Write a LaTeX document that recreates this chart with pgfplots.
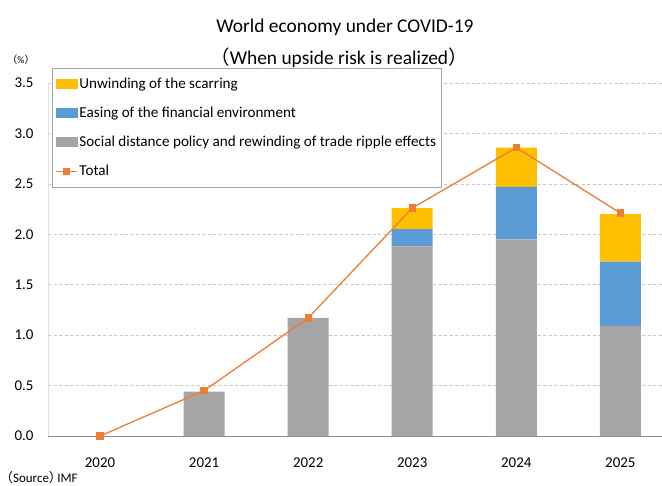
\documentclass[border=0pt]{standalone}
\usepackage{pgfplots}
\pgfplotsset{compat=1.18}
\usepackage{fontspec}
\setmainfont{Carlito}
\newfontfamily\cjk{Noto Sans CJK JP}
\definecolor{cyellow}{HTML}{FFC000}
\definecolor{cblue}{HTML}{5B9BD5}
\definecolor{cgray}{HTML}{A5A5A5}
\definecolor{corange}{HTML}{ED7D31}
\begin{document}
\begin{tikzpicture}
\pgfplotsset{common/.style={width=614bp, height=353bp, scale only axis,
  xmin=-0.5, xmax=5.4, ymin=0, ymax=3.5, at={(0,0)}, anchor=south west}}
\begin{axis}[common, ybar stacked, bar width=41bp,
  axis x line*=bottom, axis y line*=left,
  x axis line style={draw=black!45, line width=0.9pt, -},
  y axis line style={draw=black!12, -},
  ytick={0,0.5,...,3.5}, ymajorgrids,
  grid style={draw=black!22, dash pattern=on 3bp off 2.5bp, line width=0.6pt},
  major tick length=0,
  xtick={0,...,5}, xticklabels={2020,2021,2022,2023,2024,2025},
  /pgf/number format/assume math mode=true,
  yticklabel style={/pgf/number format/fixed, /pgf/number format/fixed zerofill, /pgf/number format/precision=1, xshift=-11bp},
  xticklabel style={yshift=-18bp},
  tick label style={font=\fontsize{15}{17}\selectfont},
  legend cell align=left,
  legend style={at={(axis description cs:0.0065,1.0425)}, anchor=north west,
    draw=black!35, fill=white, font=\fontsize{15.2}{17}\selectfont,
    row sep=13bp, inner xsep=3bp, inner ysep=8bp,
    /tikz/every even column/.append style={column sep=1bp}},
]
\addplot[fill=cgray, draw=none, forget plot] coordinates {(0,0) (1,0.44) (2,1.17) (3,1.88) (4,1.95) (5,1.09)};
\addplot[fill=cblue, draw=none, forget plot] coordinates {(0,0) (1,0) (2,0) (3,0.17) (4,0.52) (5,0.64)};
\addplot[fill=cyellow, draw=none, forget plot] coordinates {(0,0) (1,0) (2,0) (3,0.21) (4,0.39) (5,0.47)};
\addlegendimage{legend image code/.code={\fill[cyellow] (0bp,-4bp) rectangle (21bp,4.5bp);}}
\addlegendentry{Unwinding of the scarring}
\addlegendimage{legend image code/.code={\fill[cblue] (0bp,-4bp) rectangle (21bp,4.5bp);}}
\addlegendentry{Easing of the financial environment}
\addlegendimage{legend image code/.code={\fill[cgray] (0bp,-4bp) rectangle (21bp,4.5bp);}}
\addlegendentry{Social distance policy and rewinding of trade ripple effects}
\addlegendimage{legend image code/.code={\draw[corange, line width=1.3bp] (0bp,0bp) -- (21bp,0bp); \fill[corange] (7.5bp,-3bp) rectangle (13.5bp,3bp);}}
\addlegendentry{Total}
\end{axis}
\begin{axis}[common, hide axis, clip=false]
\addplot[corange, line width=1.3bp, mark=square*, mark size=3bp, mark options={fill=corange}] coordinates {(0,0) (1,0.45) (2,1.17) (3,2.26) (4,2.86) (5,2.21)};
\end{axis}
\node[font=\fontsize{19.5}{22}\selectfont] at (297bp,409bp) {World economy under COVID-19};
\node[font=\fontsize{19.5}{22}\selectfont] at (291bp,378bp) {{\cjk （}When upside risk is realized{\cjk ）}};
\node[font=\fontsize{10}{11}\selectfont] at (-27bp,376bp) {{\cjk （}\%{\cjk ）}};
\node[font=\fontsize{13}{14}\selectfont, anchor=west, inner sep=0pt] at (-48bp,-42bp) {{\cjk （}Source{\cjk ）}\kern-0.35em IMF};
\pgfresetboundingbox
\path (-48bp,-50bp) rectangle (614bp,436bp);
\end{tikzpicture}
\end{document}
